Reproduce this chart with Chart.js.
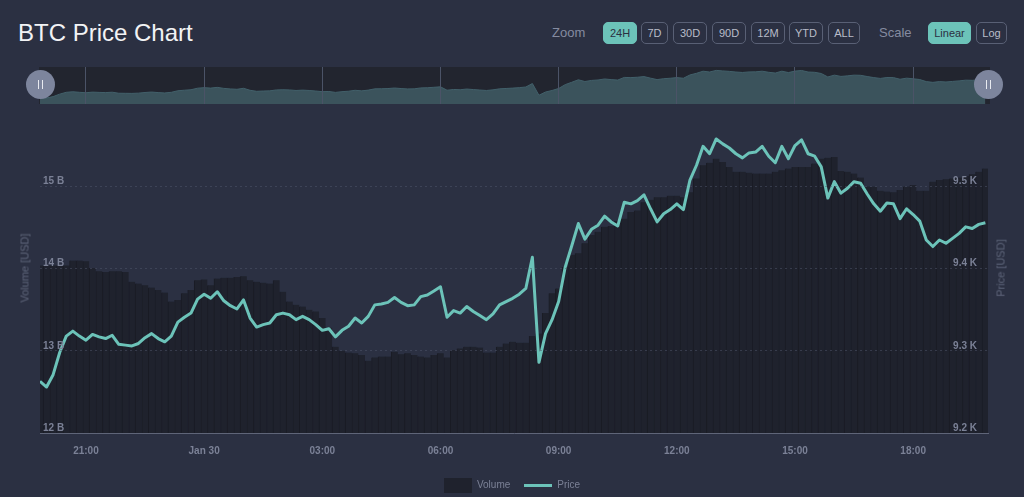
<!DOCTYPE html>
<html>
<head>
<meta charset="utf-8">
<title>BTC Price Chart</title>
<script src="https://cdn.jsdelivr.net/npm/chart.js@4.4.1/dist/chart.umd.min.js"></script>
<style>
  html, body { margin: 0; padding: 0; width: 1024px; height: 497px; overflow: hidden; background: #2b3042; font-family: "Liberation Sans", Arial, sans-serif; }
  #title { position: absolute; left: 18px; top: 18px; font-size: 24px; line-height: 30px; color: #f2f3f5; }
  .lbl { position: absolute; top: 23px; font-size: 13px; line-height: 20px; color: #858ba0; }
  .btn { position: absolute; top: 22px; height: 22px; box-sizing: border-box; border: 1px solid #596075; border-radius: 5px; color: #b9bdc9; font-size: 11px; line-height: 20px; text-align: center; }
  .btn.on { background: #6cc3b9; border-color: #6cc3b9; color: #2b3042; }
  #navbg { position: absolute; left: 39px; top: 67px; width: 951px; height: 37px; background: #22252f; }
  #nav { position: absolute; left: 0; top: 67px; }
  .handle { position: absolute; top: 70px; width: 29px; height: 29px; border-radius: 50%; background: #7d859d; }
  .handle span { position: absolute; top: 10px; width: 1px; height: 9px; background: #e8eaf0; }
  #main { position: absolute; left: 0; top: 106px; }
  .atitle { position: absolute; font-size: 11px; line-height: 13px; color: #5d6479; white-space: nowrap; transform: translate(-50%, -50%) rotate(-90deg); }
</style>
</head>
<body>
<div id="title">BTC Price Chart</div>

<div class="lbl" style="left:552px">Zoom</div>
<div class="btn on" style="left:603px;width:34px">24H</div>
<div class="btn" style="left:641px;width:27px">7D</div>
<div class="btn" style="left:673px;width:34px">30D</div>
<div class="btn" style="left:712px;width:34px">90D</div>
<div class="btn" style="left:751px;width:34px">12M</div>
<div class="btn" style="left:789px;width:34px">YTD</div>
<div class="btn" style="left:828px;width:32px">ALL</div>
<div class="lbl" style="left:879px">Scale</div>
<div class="btn on" style="left:928px;width:43px">Linear</div>
<div class="btn" style="left:976px;width:31px">Log</div>

<div id="navbg"></div>
<canvas id="nav" width="1024" height="37"></canvas>
<div class="handle" style="left:26px"><span style="left:12px"></span><span style="left:16px"></span></div>
<div class="handle" style="left:974px"><span style="left:12px"></span><span style="left:16px"></span></div>

<canvas id="main" width="1024" height="394"></canvas>
<div class="atitle" style="left:25px;top:268px">Volume [USD]</div>
<div class="atitle" style="left:1001px;top:268px">Price [USD]</div>

<script>
// 10 minute samples, 19:50 Jan 29 -> 19:50 Jan 30 (hours relative to Jan 30 00:00)
const startHour = -25 / 6;
const stepHour = 1 / 6;

// 24h volume, billions USD
const volumeB = [
  14.04, 14.04, 14.04, 14.04, 14.04, 14.10, 14.10, 14.09, 14.01, 13.97,
  13.96, 13.97, 13.97, 13.96, 13.84, 13.82, 13.80, 13.77, 13.74, 13.71,
  13.60, 13.62, 13.70, 13.74, 13.86, 13.87, 13.80, 13.88, 13.89, 13.89,
  13.90, 13.91, 13.86, 13.84, 13.83, 13.82, 13.86, 13.72, 13.60, 13.56,
  13.54, 13.50, 13.48, 13.40, 13.28, 13.05, 13.00, 12.98, 12.97, 12.95,
  12.88, 12.92, 12.93, 12.93, 12.99, 12.96, 12.97, 12.95, 12.93, 12.92,
  12.95, 12.97, 12.92, 13.01, 13.03, 13.05, 13.05, 13.04, 12.98, 12.98,
  13.05, 13.09, 13.11, 13.10, 13.10, 13.18, 13.21, 13.46, 13.70, 13.76,
  14.02, 14.17, 14.19, 14.31, 14.41, 14.45, 14.51, 14.52, 14.58, 14.61,
  14.69, 14.71, 14.81, 14.84, 14.87, 14.87, 14.89, 14.89, 14.87, 14.93,
  15.10, 15.26, 15.29, 15.34, 15.30, 15.24, 15.18, 15.18, 15.17, 15.16,
  15.16, 15.16, 15.18, 15.20, 15.22, 15.24, 15.24, 15.24, 15.28, 15.34,
  15.35, 15.36, 15.19, 15.18, 15.16, 15.11, 15.00, 15.00, 14.95, 14.94,
  14.93, 14.96, 15.00, 15.02, 14.95, 14.95, 15.06, 15.08, 15.09, 15.10,
  15.11, 15.13, 15.15, 15.18, 15.22
];

// BTC price, thousands USD
const priceK = [
  9.263, 9.256, 9.271, 9.298, 9.318, 9.324, 9.318, 9.313, 9.320, 9.317,
  9.315, 9.319, 9.308, 9.307, 9.306, 9.309, 9.316, 9.321, 9.315, 9.311,
  9.318, 9.335, 9.341, 9.346, 9.363, 9.369, 9.364, 9.372, 9.361, 9.355,
  9.351, 9.362, 9.340, 9.329, 9.332, 9.334, 9.344, 9.346, 9.344, 9.338,
  9.342, 9.338, 9.332, 9.325, 9.327, 9.317, 9.325, 9.330, 9.340, 9.334,
  9.342, 9.356, 9.357, 9.359, 9.365, 9.359, 9.355, 9.356, 9.366, 9.368,
  9.373, 9.378, 9.341, 9.349, 9.346, 9.354, 9.348, 9.343, 9.338, 9.345,
  9.356, 9.360, 9.364, 9.369, 9.376, 9.414, 9.286, 9.321, 9.338, 9.360,
  9.402, 9.428, 9.455, 9.436, 9.448, 9.453, 9.464, 9.457, 9.452, 9.481,
  9.479, 9.483, 9.490, 9.473, 9.457, 9.467, 9.472, 9.479, 9.472, 9.508,
  9.526, 9.549, 9.540, 9.558, 9.552, 9.547, 9.540, 9.535, 9.541, 9.542,
  9.549, 9.537, 9.529, 9.549, 9.534, 9.550, 9.557, 9.540, 9.537, 9.524,
  9.486, 9.506, 9.492, 9.498, 9.506, 9.504, 9.491, 9.479, 9.470, 9.480,
  9.479, 9.461, 9.473, 9.466, 9.458, 9.435, 9.427, 9.435, 9.431, 9.437,
  9.443, 9.451, 9.449, 9.454, 9.456
];

const xTickValues = [-3, 0, 3, 6, 9, 12, 15, 18];
const xTickLabels = ['21:00', 'Jan 30', '03:00', '06:00', '09:00', '12:00', '15:00', '18:00'];
const volTickValues = [12, 13, 14, 15];
const volTickLabels = ['12 B', '13 B', '14 B', '15 B'];
const priceTickValues = [9.2, 9.3, 9.4, 9.5];
const priceTickLabels = ['9.2 K', '9.3 K', '9.4 K', '9.5 K'];

const xMin = startHour;
const xMax = 19.9;

const teal = '#6cc3b9';
const barColor = '#1f222d';
const tickColor = '#7b8196';

Chart.defaults.font.family = '"Liberation Sans", Arial, sans-serif';

const volumePoints = volumeB.map((v, i) => ({ x: startHour + i * stepHour, y: v }));
const pricePoints = priceK.map((v, i) => ({ x: startHour + i * stepHour, y: v }));

function fixedTicks(values) {
  return scale => { scale.ticks = values.map(v => ({ value: v })); };
}

// legend symbols
const volIcon = document.createElement('canvas');
volIcon.width = 28; volIcon.height = 15;
let c = volIcon.getContext('2d');
c.fillStyle = barColor; c.fillRect(0, 0, 28, 15);
const priceIcon = document.createElement('canvas');
priceIcon.width = 28; priceIcon.height = 3;
c = priceIcon.getContext('2d');
c.fillStyle = teal; c.fillRect(0, 0, 28, 3);

// navigator
new Chart(document.getElementById('nav').getContext('2d'), {
  type: 'line',
  data: {
    datasets: [{
      data: pricePoints,
      fill: 'start',
      backgroundColor: '#3b535c',
      borderColor: '#42606a',
      borderWidth: 1,
      pointRadius: 0
    }]
  },
  options: {
    responsive: false,
    animation: false,
    layout: { padding: { left: 40, right: 36, top: 0, bottom: 0 } },
    plugins: { legend: { display: false }, tooltip: { enabled: false } },
    scales: {
      x: {
        type: 'linear', min: xMin, max: xMax,
        afterBuildTicks: fixedTicks(xTickValues),
        afterFit: s => { s.height = 0; },
        ticks: { display: false },
        grid: { color: '#4b5367', drawTicks: false, z: 1 },
        border: { display: false }
      },
      y: { display: false, min: 9.19, max: 9.595 }
    }
  }
});

// main chart
new Chart(document.getElementById('main').getContext('2d'), {
  type: 'bar',
  data: {
    datasets: [{
      type: 'line',
      label: 'Price',
      data: pricePoints,
      yAxisID: 'yp',
      borderColor: teal,
      borderWidth: 3,
      pointRadius: 0,
      tension: 0,
      borderJoinStyle: 'round',
      order: 0
    }, {
      type: 'bar',
      label: 'Volume',
      data: volumePoints,
      yAxisID: 'yv',
      backgroundColor: barColor,
      borderColor: '#1a1c25',
      borderWidth: { left: 1, top: 0, right: 0, bottom: 0 },
      borderSkipped: false,
      barPercentage: 1,
      categoryPercentage: 1,
      order: 1
    }]
  },
  options: {
    responsive: false,
    animation: false,
    layout: { padding: { top: 19, left: 0, right: 0, bottom: 0 } },
    plugins: {
      tooltip: { enabled: false },
      legend: {
        position: 'bottom',
        labels: {
          usePointStyle: true,
          pointStyleWidth: 28,
          padding: 14,
          color: tickColor,
          font: { size: 10 },
          generateLabels: () => [
            { text: 'Volume', pointStyle: volIcon, fontColor: tickColor, lineWidth: 0, datasetIndex: 1, hidden: false },
            { text: 'Price', pointStyle: priceIcon, fontColor: tickColor, lineWidth: 0, datasetIndex: 0, hidden: false }
          ]
        }
      }
    },
    scales: {
      x: {
        type: 'linear', min: xMin, max: xMax, offset: false,
        afterBuildTicks: fixedTicks(xTickValues),
        afterFit: s => { s.height = 33; },
        ticks: {
          autoSkip: false, maxRotation: 0, padding: 12,
          color: tickColor, font: { size: 10, weight: 'bold' },
          callback: (v, i) => xTickLabels[i]
        },
        grid: { display: false, drawTicks: false, offset: false },
        border: { display: true, color: '#5f6578', width: 1, z: 1 }
      },
      yv: {
        position: 'left', min: 12, max: 15.75,
        afterBuildTicks: fixedTicks(volTickValues),
        afterFit: s => { s.width = 40; },
        ticks: {
          mirror: true, padding: 3, labelOffset: -5, z: 1,
          color: tickColor, font: { size: 10, weight: 'bold' },
          callback: (v, i) => volTickLabels[i]
        },
        grid: {
          drawTicks: false, z: 1,
          color: ctx => ctx.tick && ctx.tick.value === 12 ? 'rgba(0,0,0,0)' : 'rgba(80,86,108,0.5)'
        },
        border: { display: false, dash: [2, 3] }
      },
      yp: {
        position: 'right', min: 9.2, max: 9.575,
        afterBuildTicks: fixedTicks(priceTickValues),
        afterFit: s => { s.width = 36; },
        ticks: {
          mirror: true, padding: -11, labelOffset: -5, z: 1,
          color: tickColor, font: { size: 10, weight: 'bold' },
          callback: (v, i) => priceTickLabels[i]
        },
        grid: { display: false, drawTicks: false },
        border: { display: false }
      }
    }
  }
});
</script>
</body>
</html>
